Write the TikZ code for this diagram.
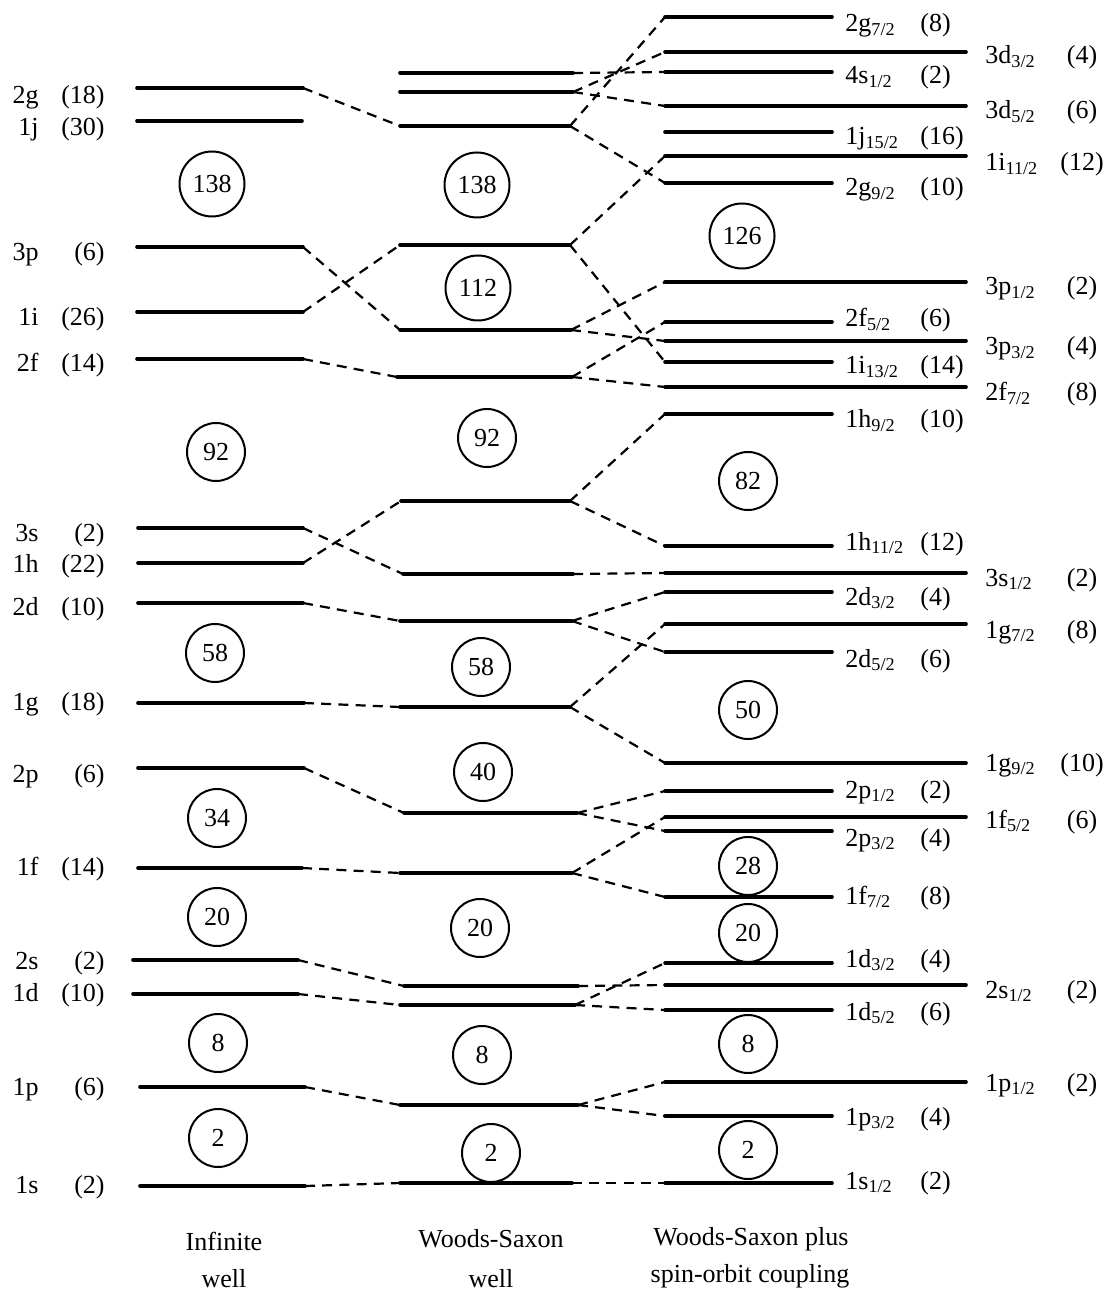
\documentclass[tikz,border=0pt]{standalone}
\usepackage{fontspec}
\setmainfont{Liberation Serif}
\tikzset{
  shell/.style  ={line width=1.8pt, line cap=round},
  conn/.style   ={line width=1.1pt, dash pattern=on 5pt off 3.6pt},
  magic/.style  ={draw, circle, line width=1pt, minimum size=29pt, inner sep=0pt},
  magicw/.style ={magic, minimum size=32.5pt},
  lname/.style  ={anchor=base east, inner sep=0pt},
  rname/.style  ={anchor=base west, inner sep=0pt},
  capt/.style   ={anchor=base, inner sep=0pt},
}
\newcommand{\shelllevel}[4]{% name, x from, x to, y
  \coordinate (#1-l) at (#2,#4);
  \coordinate (#1-r) at (#3,#4);
  \draw[shell] (#1-l) -- (#1-r);}
\newcommand{\sj}[1]{\textsubscript{#1}}

\begin{document}
\begin{tikzpicture}[x=0.5pt, y=-0.5pt, font=\fontsize{13}{15}\selectfont]
  \useasboundingbox (0,0) rectangle (1107,1293);

  % infinite well
  \shelllevel{iw2g}{137}{303}{88}
  \shelllevel{iw1j}{137}{302}{121}
  \shelllevel{iw3p}{137}{303}{247}
  \shelllevel{iw1i}{137}{303}{312}
  \shelllevel{iw2f}{137}{303}{359}
  \shelllevel{iw3s}{138}{303}{528}
  \shelllevel{iw1h}{138}{303}{563}
  \shelllevel{iw2d}{138}{303}{603}
  \shelllevel{iw1g}{138}{304}{703}
  \shelllevel{iw2p}{138}{304}{768}
  \shelllevel{iw1f}{138}{302}{868}
  \shelllevel{iw2s}{133}{298}{960}
  \shelllevel{iw1d}{133}{298}{994}
  \shelllevel{iw1p}{140}{305}{1087}
  \shelllevel{iw1s}{140}{305}{1186}

  \node[lname] (iw2g-n) at (39,104) {2g};   \node[lname] (iw2g-c) at (105,104) {(18)};
  \node[lname] (iw1j-n) at (39,136) {1j};   \node[lname] (iw1j-c) at (105,136) {(30)};
  \node[lname] (iw3p-n) at (39,261) {3p};   \node[lname] (iw3p-c) at (105,261) {(6)};
  \node[lname] (iw1i-n) at (39,326) {1i};   \node[lname] (iw1i-c) at (105,326) {(26)};
  \node[lname] (iw2f-n) at (39,372) {2f};   \node[lname] (iw2f-c) at (105,372) {(14)};
  \node[lname] (iw3s-n) at (39,541) {3s};   \node[lname] (iw3s-c) at (105,541) {(2)};
  \node[lname] (iw1h-n) at (39,572) {1h};   \node[lname] (iw1h-c) at (105,572) {(22)};
  \node[lname] (iw2d-n) at (39,615) {2d};   \node[lname] (iw2d-c) at (105,615) {(10)};
  \node[lname] (iw1g-n) at (39,710) {1g};   \node[lname] (iw1g-c) at (105,710) {(18)};
  \node[lname] (iw2p-n) at (39,782) {2p};   \node[lname] (iw2p-c) at (105,782) {(6)};
  \node[lname] (iw1f-n) at (39,875) {1f};   \node[lname] (iw1f-c) at (105,875) {(14)};
  \node[lname] (iw2s-n) at (39,969) {2s};   \node[lname] (iw2s-c) at (105,969) {(2)};
  \node[lname] (iw1d-n) at (39,1001) {1d};  \node[lname] (iw1d-c) at (105,1001) {(10)};
  \node[lname] (iw1p-n) at (39,1095) {1p};  \node[lname] (iw1p-c) at (105,1095) {(6)};
  \node[lname] (iw1s-n) at (39,1193) {1s};  \node[lname] (iw1s-c) at (105,1193) {(2)};

  \node[magicw] (iw138) at (212,184) {138};
  \node[magic]  (iw92)  at (216,452) {92};
  \node[magic]  (iw58)  at (215,653) {58};
  \node[magic]  (iw34)  at (217,818) {34};
  \node[magic]  (iw20)  at (217,917) {20};
  \node[magic]  (iw8)   at (218,1043) {8};
  \node[magic]  (iw2)   at (218,1138) {2};

  % Woods-Saxon well
  \shelllevel{ws4s}{400}{573}{73}
  \shelllevel{ws3d}{400}{573}{92}
  \shelllevel{ws2g}{400}{570}{126}
  \shelllevel{ws1i}{400}{570}{245}
  \shelllevel{ws3p}{400}{571}{330}
  \shelllevel{ws2f}{397}{572}{377}
  \shelllevel{ws1h}{401}{570}{501}
  \shelllevel{ws3s}{403}{573}{574}
  \shelllevel{ws2d}{400}{572}{621}
  \shelllevel{ws1g}{400}{570}{707}
  \shelllevel{ws2p}{404}{577}{813}
  \shelllevel{ws1f}{400}{572}{873}
  \shelllevel{ws2s}{404}{578}{986}
  \shelllevel{ws1d}{400}{575}{1005}
  \shelllevel{ws1p}{400}{578}{1105}
  \shelllevel{ws1s}{400}{572}{1183}

  \node[magicw] (ws138) at (477,185) {138};
  \node[magicw] (ws112) at (478,288) {112};
  \node[magic]  (ws92)  at (487,438) {92};
  \node[magic]  (ws58)  at (481,667) {58};
  \node[magic]  (ws40)  at (483,772) {40};
  \node[magic]  (ws20)  at (480,928) {20};
  \node[magic]  (ws8)   at (482,1055) {8};
  \node[magic]  (ws2)   at (491,1153) {2};

  % Woods-Saxon plus spin-orbit
  \shelllevel{so2g7}{665}{832}{17}
  \shelllevel{so3d3}{665}{966}{52}
  \shelllevel{so4s1}{665}{832}{72}
  \shelllevel{so3d5}{665}{966}{106}
  \shelllevel{so1j15}{665}{832}{132}
  \shelllevel{so1i11}{665}{966}{156}
  \shelllevel{so2g9}{665}{832}{183}
  \shelllevel{so3p1}{665}{966}{282}
  \shelllevel{so2f5}{665}{832}{322}
  \shelllevel{so3p3}{665}{966}{341}
  \shelllevel{so1i13}{665}{832}{362}
  \shelllevel{so2f7}{665}{966}{387}
  \shelllevel{so1h9}{665}{832}{414}
  \shelllevel{so1h11}{665}{832}{546}
  \shelllevel{so3s1}{665}{966}{573}
  \shelllevel{so2d3}{665}{832}{592}
  \shelllevel{so1g7}{665}{966}{624}
  \shelllevel{so2d5}{665}{832}{652}
  \shelllevel{so1g9}{665}{966}{763}
  \shelllevel{so2p1}{665}{832}{791}
  \shelllevel{so1f5}{665}{966}{817}
  \shelllevel{so2p3}{665}{832}{831}
  \shelllevel{so1f7}{665}{832}{897}
  \shelllevel{so1d3}{665}{832}{963}
  \shelllevel{so2s1}{665}{966}{985}
  \shelllevel{so1d5}{665}{832}{1010}
  \shelllevel{so1p1}{665}{966}{1082}
  \shelllevel{so1p3}{665}{832}{1116}
  \shelllevel{so1s1}{665}{832}{1183}

  \node[rname] (so2g7-n)  at (845,32)   {2g\sj{7/2}};   \node[rname] (so2g7-c)  at (920,32)   {(8)};
  \node[rname] (so4s1-n)  at (845,84)   {4s\sj{1/2}};   \node[rname] (so4s1-c)  at (920,84)   {(2)};
  \node[rname] (so1j15-n) at (845,145)  {1j\sj{15/2}};  \node[rname] (so1j15-c) at (920,145)  {(16)};
  \node[rname] (so2g9-n)  at (845,196)  {2g\sj{9/2}};   \node[rname] (so2g9-c)  at (920,196)  {(10)};
  \node[rname] (so2f5-n)  at (845,327)  {2f\sj{5/2}};   \node[rname] (so2f5-c)  at (920,327)  {(6)};
  \node[rname] (so1i13-n) at (845,374)  {1i\sj{13/2}};  \node[rname] (so1i13-c) at (920,374)  {(14)};
  \node[rname] (so1h9-n)  at (845,428)  {1h\sj{9/2}};   \node[rname] (so1h9-c)  at (920,428)  {(10)};
  \node[rname] (so1h11-n) at (845,550)  {1h\sj{11/2}};  \node[rname] (so1h11-c) at (920,550)  {(12)};
  \node[rname] (so2d3-n)  at (845,605)  {2d\sj{3/2}};   \node[rname] (so2d3-c)  at (920,605)  {(4)};
  \node[rname] (so2d5-n)  at (845,667)  {2d\sj{5/2}};   \node[rname] (so2d5-c)  at (920,667)  {(6)};
  \node[rname] (so2p1-n)  at (845,798)  {2p\sj{1/2}};   \node[rname] (so2p1-c)  at (920,798)  {(2)};
  \node[rname] (so2p3-n)  at (845,846)  {2p\sj{3/2}};   \node[rname] (so2p3-c)  at (920,846)  {(4)};
  \node[rname] (so1f7-n)  at (845,904)  {1f\sj{7/2}};   \node[rname] (so1f7-c)  at (920,904)  {(8)};
  \node[rname] (so1d3-n)  at (845,967)  {1d\sj{3/2}};   \node[rname] (so1d3-c)  at (920,967)  {(4)};
  \node[rname] (so1d5-n)  at (845,1020) {1d\sj{5/2}};   \node[rname] (so1d5-c)  at (920,1020) {(6)};
  \node[rname] (so1p3-n)  at (845,1125) {1p\sj{3/2}};   \node[rname] (so1p3-c)  at (920,1125) {(4)};
  \node[rname] (so1s1-n)  at (845,1189) {1s\sj{1/2}};   \node[rname] (so1s1-c)  at (920,1189) {(2)};

  \node[rname] (so3d3-n)  at (985,64)   {3d\sj{3/2}};   \node[capt] (so3d3-c)  at (1082,64)   {(4)};
  \node[rname] (so3d5-n)  at (985,119)  {3d\sj{5/2}};   \node[capt] (so3d5-c)  at (1082,119)  {(6)};
  \node[rname] (so1i11-n) at (985,171)  {1i\sj{11/2}};  \node[capt] (so1i11-c) at (1082,171)  {(12)};
  \node[rname] (so3p1-n)  at (985,295)  {3p\sj{1/2}};   \node[capt] (so3p1-c)  at (1082,295)  {(2)};
  \node[rname] (so3p3-n)  at (985,355)  {3p\sj{3/2}};   \node[capt] (so3p3-c)  at (1082,355)  {(4)};
  \node[rname] (so2f7-n)  at (985,401)  {2f\sj{7/2}};   \node[capt] (so2f7-c)  at (1082,401)  {(8)};
  \node[rname] (so3s1-n)  at (985,586)  {3s\sj{1/2}};   \node[capt] (so3s1-c)  at (1082,586)  {(2)};
  \node[rname] (so1g7-n)  at (985,638)  {1g\sj{7/2}};   \node[capt] (so1g7-c)  at (1082,638)  {(8)};
  \node[rname] (so1g9-n)  at (985,771)  {1g\sj{9/2}};   \node[capt] (so1g9-c)  at (1082,771)  {(10)};
  \node[rname] (so1f5-n)  at (985,828)  {1f\sj{5/2}};   \node[capt] (so1f5-c)  at (1082,828)  {(6)};
  \node[rname] (so2s1-n)  at (985,998)  {2s\sj{1/2}};   \node[capt] (so2s1-c)  at (1082,998)  {(2)};
  \node[rname] (so1p1-n)  at (985,1091) {1p\sj{1/2}};   \node[capt] (so1p1-c)  at (1082,1091) {(2)};

  \node[magicw] (so126) at (742,236) {126};
  \node[magic]  (so82)  at (748,481) {82};
  \node[magic]  (so50)  at (748,710) {50};
  \node[magic]  (so28)  at (748,866) {28};
  \node[magic]  (so20)  at (748,933) {20};
  \node[magic]  (so8)   at (748,1044) {8};
  \node[magic]  (so2)   at (748,1150) {2};

  % infinite well -> Woods-Saxon
  \draw[conn] (iw2g-r) -- (ws2g-l);
  \draw[conn] (iw3p-r) -- (ws3p-l);
  \draw[conn] (iw1i-r) -- (ws1i-l);
  \draw[conn] (iw2f-r) -- (ws2f-l);
  \draw[conn] (iw3s-r) -- (ws3s-l);
  \draw[conn] (iw1h-r) -- (ws1h-l);
  \draw[conn] (iw2d-r) -- (ws2d-l);
  \draw[conn] (iw1g-r) -- (ws1g-l);
  \draw[conn] (iw2p-r) -- (ws2p-l);
  \draw[conn] (iw1f-r) -- (ws1f-l);
  \draw[conn] (iw2s-r) -- (ws2s-l);
  \draw[conn] (iw1d-r) -- (ws1d-l);
  \draw[conn] (iw1p-r) -- (ws1p-l);
  \draw[conn] (iw1s-r) -- (ws1s-l);

  % Woods-Saxon -> spin-orbit splitting
  \draw[conn] (ws4s-r) -- (so4s1-l);
  \draw[conn] (ws3d-r) -- (so3d3-l);
  \draw[conn] (ws3d-r) -- (so3d5-l);
  \draw[conn] (ws2g-r) -- (so2g7-l);
  \draw[conn] (ws2g-r) -- (so2g9-l);
  \draw[conn] (ws1i-r) -- (so1i11-l);
  \draw[conn] (ws1i-r) -- (so1i13-l);
  \draw[conn] (ws3p-r) -- (so3p1-l);
  \draw[conn] (ws3p-r) -- (so3p3-l);
  \draw[conn] (ws2f-r) -- (so2f5-l);
  \draw[conn] (ws2f-r) -- (so2f7-l);
  \draw[conn] (ws1h-r) -- (so1h9-l);
  \draw[conn] (ws1h-r) -- (so1h11-l);
  \draw[conn] (ws3s-r) -- (so3s1-l);
  \draw[conn] (ws2d-r) -- (so2d3-l);
  \draw[conn] (ws2d-r) -- (so2d5-l);
  \draw[conn] (ws1g-r) -- (so1g7-l);
  \draw[conn] (ws1g-r) -- (so1g9-l);
  \draw[conn] (ws2p-r) -- (so2p1-l);
  \draw[conn] (ws2p-r) -- (so2p3-l);
  \draw[conn] (ws1f-r) -- (so1f5-l);
  \draw[conn] (ws1f-r) -- (so1f7-l);
  \draw[conn] (ws2s-r) -- (so2s1-l);
  \draw[conn] (ws1d-r) -- (so1d3-l);
  \draw[conn] (ws1d-r) -- (so1d5-l);
  \draw[conn] (ws1p-r) -- (so1p1-l);
  \draw[conn] (ws1p-r) -- (so1p3-l);
  \draw[conn] (ws1s-r) -- (so1s1-l);

  \node[capt] (capt-iw1) at (224,1250) {Infinite};
  \node[capt] (capt-iw2) at (224,1287) {well};
  \node[capt] (capt-ws1) at (491,1247) {Woods-Saxon};
  \node[capt] (capt-ws2) at (491,1287) {well};
  \node[capt] (capt-so1) at (751,1245) {Woods-Saxon plus};
  \node[capt] (capt-so2) at (750,1282) {spin-orbit coupling};
\end{tikzpicture}
\end{document}
